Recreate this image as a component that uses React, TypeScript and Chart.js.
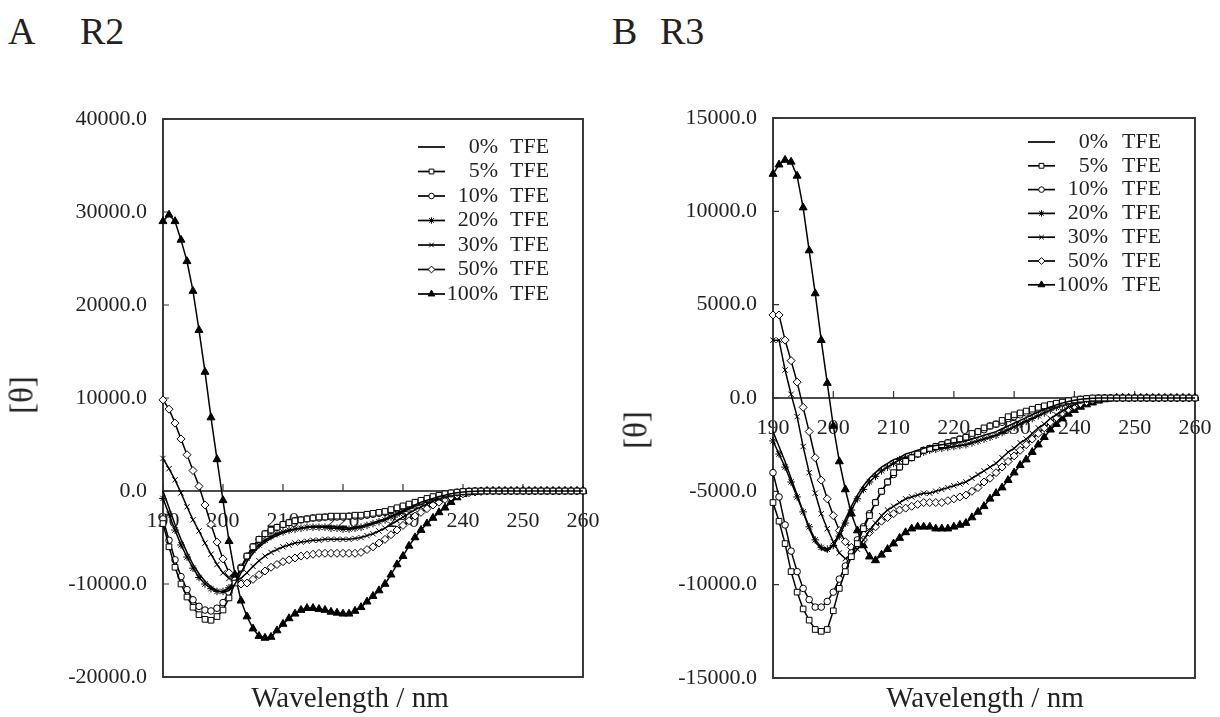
import React, { useEffect, useRef } from "react";
import { Chart, registerables } from "chart.js";
import { drawPoint } from "chart.js/helpers";

Chart.register(...registerables);

// ---------- data ----------
const wavelengths = [
  190, 191, 192, 193, 194, 195, 196, 197, 198, 199,
  200, 201, 202, 203, 204, 205, 206, 207, 208, 209,
  210, 211, 212, 213, 214, 215, 216, 217, 218, 219,
  220, 221, 222, 223, 224, 225, 226, 227, 228, 229,
  230, 231, 232, 233, 234, 235, 236, 237, 238, 239,
  240, 241, 242, 243, 244, 245, 246, 247, 248, 249,
  250, 251, 252, 253, 254, 255, 256, 257, 258, 259,
  260,
];

const concentrations = ["0%", "5%", "10%", "20%", "30%", "50%", "100%"];
const solventLabel = "TFE";

const xTicks = [190, 200, 210, 220, 230, 240, 250, 260];
const yTicksA = [-20000, -10000, 0, 10000, 20000, 30000, 40000];
const yTicksB = [-15000, -10000, -5000, 0, 5000, 10000, 15000];

// Panel A (R2)
const a0 = [
  0, -1800, -3600, -5200, -6600, -7900, -8900, -9700, -10300, -10700,
  -10900, -10700, -10000, -8800, -7600, -6700, -6000, -5500, -5100, -4800,
  -4500, -4300, -4100, -4000, -3900, -3800, -3800, -3800, -3800, -3900,
  -3900, -4000, -3900, -3800, -3600, -3400, -3200, -3000, -2700, -2400,
  -2100, -1800, -1500, -1200, -1000, -800, -600, -450, -300, -200,
  -120, -60, -30, 0, 0, 0, 0, 0, 0, 0,
  0, 0, 0, 0, 0, 0, 0, 0, 0, 0,
  0,
];
const a5 = [
  -3500, -6000, -8200, -10000, -11400, -12500, -13300, -13800, -13900, -13500,
  -12800, -11500, -9900, -8300, -7000, -6000, -5200, -4600, -4200, -3900,
  -3600, -3400, -3200, -3100, -3000, -2900, -2800, -2800, -2700, -2700,
  -2700, -2700, -2600, -2600, -2500, -2400, -2300, -2200, -2000, -1800,
  -1600, -1400, -1200, -1000, -800, -600, -450, -300, -200, -120,
  -60, -20, 0, 0, 0, 0, 0, 0, 0, 0,
  0, 0, 0, 0, 0, 0, 0, 0, 0, 0,
  0,
];
const a10 = [
  -3000, -5300, -7400, -9200, -10600, -11700, -12400, -12800, -12900, -12600,
  -12000, -10900, -9600, -8200, -7000, -6000, -5200, -4600, -4200, -3900,
  -3600, -3400, -3200, -3100, -3000, -2900, -2900, -2800, -2800, -2800,
  -2800, -2700, -2700, -2700, -2600, -2500, -2400, -2300, -2100, -1900,
  -1700, -1500, -1300, -1100, -900, -700, -500, -350, -220, -130,
  -60, -20, 0, 0, 0, 0, 0, 0, 0, 0,
  0, 0, 0, 0, 0, 0, 0, 0, 0, 0,
  0,
];
const a20 = [
  -800, -2500, -4200, -5800, -7100, -8300, -9300, -10000, -10500, -10800,
  -10800, -10400, -9500, -8300, -7200, -6400, -5800, -5300, -4900, -4600,
  -4400, -4200, -4100, -4000, -3900, -3900, -3900, -3900, -4000, -4000,
  -4100, -4100, -4000, -3900, -3700, -3500, -3300, -3100, -2800, -2500,
  -2200, -1900, -1600, -1300, -1050, -850, -650, -480, -330, -220,
  -140, -80, -40, -10, 0, 0, 0, 0, 0, 0,
  0, 0, 0, 0, 0, 0, 0, 0, 0, 0,
  0,
];
const a30 = [
  3500, 2400, 1200, -200, -1700, -3100, -4300, -5600, -6800, -7900,
  -8800, -9400, -9600, -9400, -8800, -8100, -7500, -7000, -6600, -6300,
  -6000, -5800, -5600, -5500, -5400, -5300, -5300, -5200, -5200, -5200,
  -5200, -5200, -5100, -5000, -4800, -4600, -4300, -4000, -3600, -3200,
  -2800, -2400, -2000, -1700, -1400, -1100, -850, -650, -450, -300,
  -200, -120, -60, -20, 0, 0, 0, 0, 0, 0,
  0, 0, 0, 0, 0, 0, 0, 0, 0, 0,
  0,
];
const a50 = [
  9800, 8800, 7300, 5600, 3900, 2200, 500, -1500, -3600, -5500,
  -7300, -8800, -9700, -10000, -9900, -9500, -9000, -8600, -8200, -7900,
  -7600, -7400, -7200, -7000, -6900, -6800, -6700, -6700, -6700, -6700,
  -6700, -6700, -6700, -6600, -6300, -6000, -5600, -5200, -4700, -4200,
  -3700, -3200, -2700, -2300, -1900, -1500, -1200, -900, -650, -450,
  -300, -180, -100, -50, 0, 0, 0, 0, 0, 0,
  0, 0, 0, 0, 0, 0, 0, 0, 0, 0,
  0,
];
const a100 = [
  29000, 29700, 29000, 27000, 24700, 21500, 17300, 12800, 7900, 3400,
  -1000, -5400, -9000, -11800, -13500, -14800, -15600, -15800, -15700, -15000,
  -14300, -13700, -13200, -12800, -12600, -12600, -12700, -12800, -13000, -13100,
  -13200, -13200, -12900, -12500, -11900, -11300, -10700, -10000, -9000, -7900,
  -7000, -5900, -5000, -4200, -3500, -2900, -2300, -1800, -1200, -700,
  -350, -150, -100, -50, 0, 0, 0, 0, 0, 0,
  0, 0, 0, 0, 0, 0, 0, 0, 0, 0,
  0,
];

// Panel B (R3)
const b0 = [
  -1800, -2600, -3400, -4300, -5200, -6100, -7000, -7700, -8100, -8200,
  -7900, -7200, -6500, -5800, -5200, -4700, -4300, -4000, -3700, -3500,
  -3300, -3200, -3000, -2900, -2800, -2700, -2600, -2550, -2500, -2450,
  -2400, -2350, -2300, -2200, -2100, -2000, -1900, -1800, -1650, -1500,
  -1350, -1200, -1050, -900, -750, -600, -480, -370, -270, -190,
  -120, -70, -40, -20, 0, 0, 0, 0, 0, 0,
  0, 0, 0, 0, 0, 0, 0, 0, 0, 0,
  0,
];
const b5 = [
  -5600, -6600, -7800, -9300, -10400, -11300, -11900, -12400, -12500, -12400,
  -11400, -10200, -9300, -8500, -7800, -7000, -6300, -5600, -5000, -4500,
  -4000, -3700, -3400, -3200, -3000, -2800, -2700, -2600, -2500, -2400,
  -2300, -2200, -2100, -1900, -1800, -1600, -1500, -1400, -1200, -1000,
  -900, -800, -700, -600, -500, -420, -350, -280, -220, -150,
  -100, -60, -30, 0, 0, 0, 0, 0, 0, 0,
  0, 0, 0, 0, 0, 0, 0, 0, 0, 0,
  0,
];
const b10 = [
  -4000, -5300, -6800, -8200, -9300, -10200, -10800, -11200, -11200, -10900,
  -10400, -9700, -9000, -8300, -7600, -6900, -6200, -5600, -5000, -4500,
  -4100, -3700, -3400, -3200, -3000, -2800, -2700, -2600, -2500, -2400,
  -2300, -2200, -2100, -2000, -1800, -1700, -1500, -1400, -1300, -1100,
  -1000, -900, -800, -700, -600, -500, -400, -320, -250, -180,
  -120, -70, -40, -20, 0, 0, 0, 0, 0, 0,
  0, 0, 0, 0, 0, 0, 0, 0, 0, 0,
  0,
];
const b20 = [
  -2300, -3000, -3700, -4500, -5300, -6100, -6900, -7600, -8000, -8100,
  -7900, -7400, -6700, -6000, -5400, -4900, -4500, -4200, -3900, -3700,
  -3500, -3300, -3200, -3100, -3000, -2900, -2800, -2750, -2700, -2650,
  -2600, -2550, -2500, -2400, -2300, -2200, -2100, -2000, -1850, -1700,
  -1550, -1400, -1250, -1100, -950, -800, -650, -500, -380, -270,
  -180, -110, -60, -30, 0, 0, 0, 0, 0, 0,
  0, 0, 0, 0, 0, 0, 0, 0, 0, 0,
  0,
];
const b30 = [
  3100, 3100, 1500, 200, -1000, -2600, -4000, -5100, -6200, -7000,
  -7700, -8300, -8600, -8500, -8100, -7600, -7100, -6700, -6300, -6000,
  -5800, -5600, -5400, -5300, -5200, -5100, -5100, -5000, -4900, -4800,
  -4700, -4600, -4500, -4300, -4100, -3900, -3700, -3500, -3200, -2900,
  -2700, -2400, -2200, -1900, -1600, -1400, -1100, -900, -700, -500,
  -350, -220, -130, -60, -20, 0, 0, 0, 0, 0,
  0, 0, 0, 0, 0, 0, 0, 0, 0, 0,
  0,
];
const b50 = [
  4450, 4450, 3100, 2000, 850, -500, -1800, -3200, -4400, -5400,
  -6300, -7100, -7700, -8000, -7900, -7600, -7200, -6900, -6600, -6400,
  -6200, -6000, -5900, -5800, -5700, -5600, -5600, -5600, -5600, -5500,
  -5400, -5300, -5200, -5000, -4800, -4500, -4300, -4000, -3700, -3400,
  -3100, -2800, -2500, -2200, -1900, -1600, -1300, -1050, -800, -600,
  -430, -300, -200, -110, -50, 0, 0, 0, 0, 0,
  0, 0, 0, 0, 0, 0, 0, 0, 0, 0,
  0,
];
const b100 = [
  12000, 12500, 12750, 12650, 11900, 10200, 7900, 5600, 3100, 800,
  -1500, -3400, -4900, -6200, -7100, -7900, -8500, -8700, -8400, -8100,
  -7800, -7500, -7200, -7000, -6900, -6900, -6900, -7000, -7000, -7000,
  -6900, -6800, -6700, -6400, -6100, -5800, -5400, -5100, -4800, -4400,
  -4000, -3600, -3300, -2900, -2500, -2100, -1700, -1400, -1100, -850,
  -650, -480, -350, -250, -150, -80, -30, 0, 0, 0,
  0, 0, 0, 0, 0, 0, 0, 0, 0, 0,
  0,
];

const seriesA = [a0, a5, a10, a20, a30, a50, a100];
const seriesB = [b0, b5, b10, b20, b30, b50, b100];

// ---------- styles ----------
const FONT = '"Liberation Serif", "Times New Roman", serif';
const TEXT = "#222";

const markerStyles: any[] = [
  { pointStyle: "circle", radius: 0, bg: "#000" },
  { pointStyle: "rect", radius: 4, bg: "#fff" },
  { pointStyle: "circle", radius: 3.3, bg: "#fff" },
  { pointStyle: "star", radius: 3.8, bg: "#000" },
  { pointStyle: "crossRot", radius: 3.8, bg: "#000" },
  { pointStyle: "rectRot", radius: 4, bg: "#fff" },
  { pointStyle: "triangle", radius: 4.6, bg: "#000" },
];

Chart.defaults.font.family = FONT;

const framePlugin: any = {
  id: "frame",
  beforeDatasetsDraw(chart: any) {
    const { ctx, chartArea: a, scales } = chart;
    const y0 = scales.y.getPixelForValue(0);
    ctx.save();
    ctx.strokeStyle = "#3a3a3a";
    ctx.lineWidth = 2;
    ctx.strokeRect(a.left, a.top, a.right - a.left, a.bottom - a.top);
    ctx.strokeStyle = "#111";
    ctx.lineWidth = 1.6;
    ctx.beginPath();
    ctx.moveTo(a.left, y0);
    ctx.lineTo(a.right, y0);
    ctx.stroke();
    ctx.lineWidth = 1.2;
    ctx.strokeStyle = "#333";
    ctx.beginPath();
    scales.y.ticks.forEach((t: any) => {
      const py = scales.y.getPixelForValue(t.value);
      ctx.moveTo(a.left, py);
      ctx.lineTo(a.left + 6, py);
    });
    scales.x.ticks.forEach((t: any) => {
      const px = scales.x.getPixelForValue(t.value);
      ctx.moveTo(px, y0);
      ctx.lineTo(px, y0 - 7);
    });
    ctx.stroke();
    ctx.restore();
  },
  afterDatasetsDraw(chart: any, _args: any, opts: any) {
    const { ctx, chartArea: a } = chart;
    ctx.save();
    ctx.font = `22px ${FONT}`;
    ctx.textBaseline = "middle";
    concentrations.forEach((c, i) => {
      const y = a.top + opts.legendTop + i * opts.legendGap;
      const x1 = a.left + opts.lineX1;
      const x2 = a.left + opts.lineX2;
      ctx.strokeStyle = "#000";
      ctx.lineWidth = 1.7;
      ctx.beginPath();
      ctx.moveTo(x1, y);
      ctx.lineTo(x2, y);
      ctx.stroke();
      const m = markerStyles[i];
      if (m.radius > 0) {
        ctx.fillStyle = m.bg;
        ctx.strokeStyle = "#000";
        ctx.lineWidth = 1;
        drawPoint(ctx, { pointStyle: m.pointStyle, radius: m.radius * 0.85, rotation: 0, borderWidth: 1 } as any, (x1 + x2) / 2, y);
      }
      ctx.fillStyle = TEXT;
      ctx.textAlign = "right";
      ctx.fillText(c, a.left + opts.pctRight, y);
      ctx.textAlign = "left";
      ctx.fillText(solventLabel, a.left + opts.unitLeft, y);
    });
    ctx.restore();
  },
};

function makeConfig(series: number[][], yTicks: number[], yStep: number, axisW: number, pad: any, legend: any): any {
  return {
    type: "line",
    data: {
      datasets: series.map((vals, i) => ({
        label: `${concentrations[i]} ${solventLabel}`,
        data: wavelengths.map((w, j) => ({ x: w, y: vals[j] })),
        borderColor: "#000",
        borderWidth: 1.5,
        backgroundColor: markerStyles[i].bg,
        pointBackgroundColor: markerStyles[i].bg,
        pointBorderColor: "#000",
        pointBorderWidth: 1,
        pointStyle: markerStyles[i].pointStyle,
        pointRadius: markerStyles[i].radius,
        tension: 0,
        clip: false,
        fill: false,
      })),
    },
    options: {
      animation: false,
      responsive: false,
      events: [],
      layout: { padding: pad },
      plugins: {
        legend: { display: false },
        tooltip: { enabled: false },
        frame: legend,
      },
      scales: {
        x: {
          type: "linear",
          position: { y: 0 },
          min: xTicks[0],
          max: xTicks[xTicks.length - 1],
          grid: { display: false, drawTicks: false },
          border: { display: false },
          afterFit: (s: any) => {
            s.paddingLeft = 0;
            s.paddingRight = 0;
            s.paddingTop = 0;
            s.paddingBottom = 0;
          },
          ticks: {
            stepSize: 10,
            autoSkip: false,
            maxRotation: 0,
            padding: 17,
            color: TEXT,
            font: { size: 22, family: FONT },
          },
        },
        y: {
          type: "linear",
          min: yTicks[0],
          max: yTicks[yTicks.length - 1],
          grid: { display: false, drawTicks: false },
          border: { display: false },
          afterFit: (s: any) => {
            s.width = axisW;
            s.paddingTop = 0;
            s.paddingBottom = 0;
            s.paddingLeft = 0;
            s.paddingRight = 0;
          },
          ticks: {
            stepSize: yStep,
            padding: 16,
            color: TEXT,
            font: { size: 22, family: FONT },
            callback: (v: any) => Number(v).toFixed(1),
          },
        },
      },
    },
    plugins: [framePlugin],
  };
}

function Panel(props: { left: number; config: any }) {
  const ref = useRef<HTMLCanvasElement | null>(null);
  useEffect(() => {
    if (!ref.current) return;
    const chart = new Chart(ref.current, props.config);
    return () => chart.destroy();
  }, []);
  return (
    <canvas
      ref={ref}
      width={600}
      height={590}
      style={{ position: "absolute", left: props.left, top: 100, width: 600, height: 590 }}
    />
  );
}

const textBase: React.CSSProperties = {
  position: "absolute",
  fontFamily: FONT,
  color: TEXT,
  lineHeight: 1,
  whiteSpace: "nowrap",
};

export default function App() {
  const cfgA = makeConfig(seriesA, yTicksA, 10000, 163, { left: 0, right: 17, top: 19, bottom: 13 }, {
    legendTop: 28, legendGap: 24.5, lineX1: 255, lineX2: 282, pctRight: 335, unitLeft: 347,
  });
  const cfgB = makeConfig(seriesB, yTicksB, 5000, 153, { left: 0, right: 25, top: 18, bottom: 12 }, {
    legendTop: 24, legendGap: 23.8, lineX1: 255, lineX2: 282, pctRight: 335, unitLeft: 349,
  });
  return (
    <div style={{ position: "fixed", left: 0, top: 0, width: 1220, height: 717, background: "#fff", overflow: "hidden" }}>
      <div style={{ ...textBase, left: 8, top: 12, fontSize: 38 }}>A</div>
      <div style={{ ...textBase, left: 80, top: 12, fontSize: 38 }}>R2</div>
      <div style={{ ...textBase, left: 612, top: 12, fontSize: 38 }}>B</div>
      <div style={{ ...textBase, left: 660, top: 12, fontSize: 38 }}>R3</div>
      <Panel left={0} config={cfgA} />
      <Panel left={620} config={cfgB} />
      <div style={{ ...textBase, left: 22, top: 395, fontSize: 33, transform: "translate(-50%, -50%) rotate(-90deg)" }}>[θ]</div>
      <div style={{ ...textBase, left: 636, top: 430, fontSize: 33, transform: "translate(-50%, -50%) rotate(-90deg)" }}>[θ]</div>
      <div style={{ ...textBase, left: 350, top: 683, fontSize: 29, transform: "translateX(-50%)" }}>Wavelength / nm</div>
      <div style={{ ...textBase, left: 985, top: 683, fontSize: 29, transform: "translateX(-50%)" }}>Wavelength / nm</div>
    </div>
  );
}
